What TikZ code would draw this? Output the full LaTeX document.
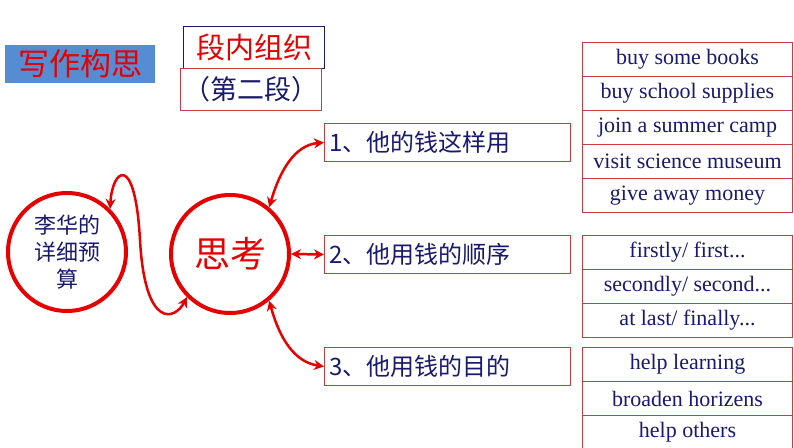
\documentclass[tikz,border=0pt]{standalone}
\usepackage{fontspec}
\setmainfont{Liberation Serif}
\newfontfamily\cjk{Noto Sans CJK SC}
\usetikzlibrary{arrows.meta}
\definecolor{dblue}{RGB}{25,25,110}
\definecolor{myred}{RGB}{230,0,0}
\definecolor{bred}{RGB}{200,60,70}
\definecolor{topblue}{RGB}{85,140,210}
\begin{document}
\begin{tikzpicture}[x=1pt,y=-1pt,
  listbox/.style={draw=bred,line width=1pt,minimum width=210pt,minimum height=34pt,anchor=north west,inner sep=0pt,text=dblue,font=\fontsize{22}{22}\selectfont},
  keybox/.style={draw=bred,line width=1pt,minimum width=246pt,minimum height=38pt,anchor=north west,inner xsep=5pt,inner ysep=0pt,text=dblue,text width=236pt,align=left,font=\cjk\fontsize{24}{24}\selectfont},
  bigc/.style={circle,draw=myred,line width=4pt,minimum size=118pt,inner sep=0pt},
  rarr/.style={draw=myred,line width=2.5pt,{Stealth[length=10pt,width=10pt]}-{Stealth[length=10pt,width=10pt]}}]
\useasboundingbox (0,0) rectangle (794,447);
\node[fill=topblue,minimum width=150pt,minimum height=38pt,anchor=north west,inner sep=0pt,text=myred,font=\cjk\fontsize{31}{31}\selectfont] (title) at (5,45) {写作构思};
\node[draw=dblue,line width=1pt,minimum width=141pt,minimum height=42pt,anchor=north west,inner sep=0pt,text=myred,font=\cjk\fontsize{29}{29}\selectfont] (org) at (183,26) {段内组织};
\node[draw=bred,line width=1pt,minimum width=141pt,minimum height=42pt,anchor=north west,inner sep=0pt,text=dblue,font=\cjk\fontsize{27}{27}\selectfont] (para) at (180,68) {（第二段）};
\node[bigc,align=center,text=dblue,font=\cjk\fontsize{22}{27}\selectfont] (li) at (67,252) {李华的\\详细预\\算};
\node[bigc,text=myred,font=\cjk\fontsize{36}{36}\selectfont] (think) at (230,254) {思考};
\node[keybox] (k1) at (324,123) {1、他的钱这样用};
\node[keybox] (k2) at (324,235) {2、他用钱的顺序};
\node[keybox] (k3) at (324,347) {3、他用钱的目的};
\node[listbox] (a1) at (582,42) {buy some books};
\node[listbox] (a2) at (582,76) {buy school supplies};
\node[listbox] (a3) at (582,110) {join a summer camp};
\node[listbox] (a4) at (582,144) {visit science museum};
\node[listbox] (a5) at (582,178) {give away money};
\node[listbox] (b1) at (582,235) {firstly/ first...};
\node[listbox] (b2) at (582,269) {secondly/ second...};
\node[listbox] (b3) at (582,303) {at last/ finally...};
\node[listbox] (c1) at (582,347) {help learning};
\node[listbox] (c2) at (582,381) {broaden horizens};
\node[listbox] (c3) at (582,415) {help others};
\draw[rarr]
  (li.45) .. controls (112,170) and (135,150) .. (140,240) .. controls (145,330) and (175,320) .. (think.225);
\draw[rarr] (think.50) .. controls (280,170) and (295,145) .. (k1.west);
\draw[rarr] (think.east) -- (k2.west);
\draw[rarr] (think.-50) .. controls (280,340) and (295,362) .. (k3.west);
\end{tikzpicture}
\end{document}
